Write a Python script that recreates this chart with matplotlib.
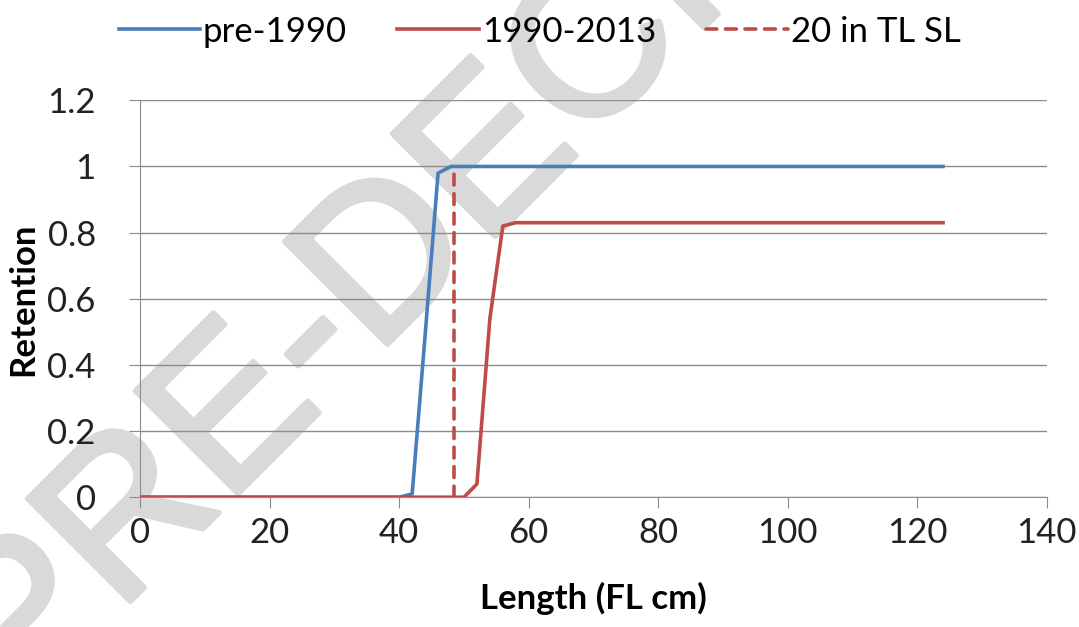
import matplotlib.pyplot as plt
import matplotlib.patheffects as pe

plt.rcParams['font.family'] = ['Lato', 'DejaVu Sans']

# retention curves (breakpoints, FL cm)
len_pre = [0, 40, 42, 44, 46, 48, 124]
ret_pre = [0, 0, 0.01, 0.49, 0.98, 1.0, 1.0]

len_post = [0, 50, 52, 54, 56, 58, 124]
ret_post = [0, 0, 0.04, 0.54, 0.82, 0.83, 0.83]

# 20 in TL size limit expressed as FL
sl_x = [48.5, 48.5]
sl_y = [0, 1.0]

blue = '#4a7ebb'
red = '#be4b48'

fig = plt.figure(figsize=(10.79, 6.27), dpi=100)
ax = fig.add_axes([0.13, 0.207, 0.84, 0.633])
ax.patch.set_alpha(0)
ax.set_zorder(2)

ax.plot(len_pre, ret_pre, color=blue, lw=2.6, label='pre-1990', zorder=3)
ax.plot(len_post, ret_post, color=red, lw=2.6, label='1990-2013', zorder=4)
ax.plot(sl_x, sl_y, color=red, lw=2.6, ls=(0, (3, 2.4)), dash_capstyle='round',
        label='20 in TL SL', zorder=5)

ax.set_xlim(0, 140)
ax.set_ylim(0, 1.2)
ax.set_xticks(range(0, 141, 20))
ax.set_yticks([0, 0.2, 0.4, 0.6, 0.8, 1.0, 1.2])
ax.set_yticklabels(['0', '0.2', '0.4', '0.6', '0.8', '1', '1.2'])
ax.yaxis.grid(True, color='#8c8c8c', lw=1.0)
ax.set_axisbelow(True)

for s in ['top', 'right']:
    ax.spines[s].set_visible(False)
for s in ['left', 'bottom']:
    ax.spines[s].set_color('#8c8c8c')
ax.tick_params(axis='both', colors='#8c8c8c', labelcolor='#222222', labelsize=25, length=8)
ax.tick_params(axis='x', pad=6)
ax.tick_params(axis='y', pad=24)

ax.set_xlabel('Length (FL cm)', fontsize=25, fontweight='bold', labelpad=24)
ax.set_ylabel('Retention', fontsize=25, fontweight='bold', labelpad=6)

fig.legend(loc='upper center', bbox_to_anchor=(0.5, 1.025), ncol=3, frameon=False,
           fontsize=25, handlelength=2.35, handletextpad=0.08, columnspacing=1.45)

# watermark, behind the plot area
wm = fig.text(0.566, 0.93, 'PRE-DECISIONAL', fontsize=152, color='#d9d9d9',
              rotation=45, ha='center', va='center', family='Liberation Sans', zorder=0)
wm.set_path_effects([pe.withStroke(linewidth=4, foreground='#d9d9d9')])

fig.savefig('out.png', dpi=100)
